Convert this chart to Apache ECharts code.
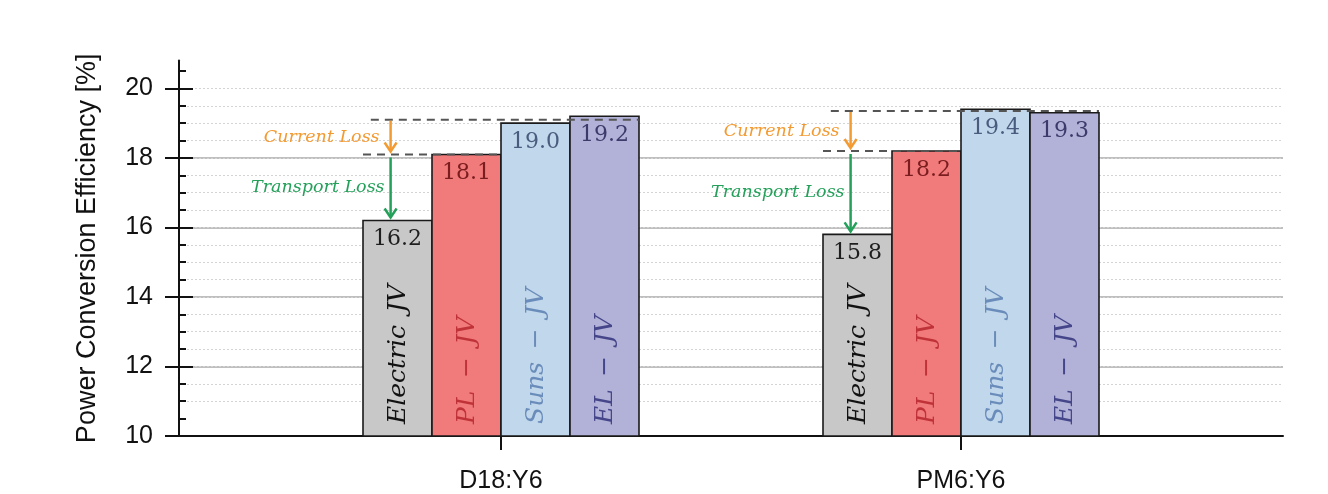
<!DOCTYPE html>
<html>
<head>
<meta charset="utf-8">
<script src="https://cdn.jsdelivr.net/npm/echarts@6/dist/echarts.min.js"></script>
<style>
  html, body { margin: 0; padding: 0; background: #fff; }
  #chart { width: 1328px; height: 494px; }
</style>
</head>
<body>
<div id="chart"></div>
<script>
// data
var groups = ['D18:Y6', 'PM6:Y6'];
var groupPos = [1, 2];
var methods = ['Electric\u2002JV', 'PL\u2002\u2212\u2002JV', 'Suns\u2002\u2212\u2002JV', 'EL\u2002\u2212\u2002JV'];
var electricJV = [16.2, 15.8];
var plJV = [18.1, 18.2];
var sunsJV = [19.0, 19.4];
var elJV = [19.2, 19.3];
var yTicks = [10, 12, 14, 16, 18, 20];

var yMin = 10, yMax = 20.8;
var barOffsets = [-0.225, -0.075, 0.075, 0.225];
var halfW = 0.075;
var fills = ['#c8c8c8', '#f17a7b', '#c1d7eb', '#b2b1d7'];
var valueColors = ['#1e1e1e', '#7a1d1f', '#4a5c7e', '#3b3a6b'];
var nameColors = ['#111111', '#bf3338', '#6a8cba', '#45458a'];

// minor grid every 0.5
var minorTicks = [];
for (var v = yMin + 0.5; v < yMax; v += 0.5) minorTicks.push(v);

var chart = echarts.init(document.getElementById('chart'));

function barSeries(k, values) {
  return {
    type: 'custom',
    name: methods[k],
    xAxisIndex: 0,
    yAxisIndex: 0,
    data: groupPos.map(function (g, i) { return [g, values[i]]; }),
    renderItem: function (params, api) {
      var x = api.value(0) + barOffsets[k];
      var val = api.value(1);
      var p0 = api.coord([x - halfW, val]);
      var p1 = api.coord([x + halfW, yMin]);
      var cx = (p0[0] + p1[0]) / 2;
      return {
        type: 'group',
        children: [
          { type: 'rect', shape: { x: p0[0], y: p0[1], width: p1[0] - p0[0], height: p1[1] - p0[1] },
            style: { fill: fills[k], stroke: '#1a1a1a', lineWidth: 1.6 } },
          { type: 'text', x: cx, y: p0[1] + 8,
            style: { text: val.toFixed(1), fill: valueColors[k], font: '22px "DejaVu Serif"', align: 'center', verticalAlign: 'top' } },
          { type: 'text', x: cx + 1, y: p1[1] - 12, rotation: Math.PI / 2,
            style: { text: methods[k], fill: nameColors[k], font: 'italic 25px "DejaVu Serif"', align: 'left', verticalAlign: 'middle' } }
        ]
      };
    }
  };
}

var lossData = groupPos.map(function (g, i) {
  return [g, electricJV[i], plJV[i], (sunsJV[i] + elJV[i]) / 2];
});

var lossSeries = {
  type: 'custom',
  xAxisIndex: 0,
  yAxisIndex: 0,
  z: 5,
  data: lossData,
  renderItem: function (params, api) {
    var g = api.value(0);
    var vE = api.value(1), vP = api.value(2), vT = api.value(3);
    var xL = g + barOffsets[0] - halfW;
    var xA = xL + 0.06;
    var lowS = api.coord([xL, vP]), lowE = api.coord([g + barOffsets[1] + halfW, vP]);
    var upS = api.coord([xL + 0.017, vT]), upE = api.coord([g + barOffsets[3] + halfW, vT]);
    var aT = api.coord([xA, vT]), aM = api.coord([xA, vP]), aB = api.coord([xA, vE]);
    var dash = { stroke: '#555', lineWidth: 2, lineDash: [8, 6] };
    var orange = '#f39b33', green = '#24a05a';
    function arrow(y0, y1, color) {
      return [
        { type: 'line', shape: { x1: aT[0], y1: y0, x2: aT[0], y2: y1 }, style: { stroke: color, lineWidth: 2.5 } },
        { type: 'polyline', shape: { points: [[aT[0] - 6, y1 - 9], [aT[0], y1], [aT[0] + 6, y1 - 9]] },
          style: { stroke: color, lineWidth: 2.5, fill: null } }
      ];
    }
    var kids = [
      { type: 'line', shape: { x1: lowS[0], y1: lowS[1], x2: lowE[0], y2: lowE[1] }, style: dash },
      { type: 'line', shape: { x1: upS[0], y1: upS[1], x2: upE[0], y2: upE[1] }, style: dash }
    ];
    kids = kids.concat(arrow(aT[1] + 1, aM[1] - 3, orange));
    kids = kids.concat(arrow(aM[1] + 3, aB[1] - 3, green));
    kids.push({ type: 'text', x: aT[0] - 11, y: (aT[1] + aM[1]) / 2,
      style: { text: 'Current Loss', fill: orange, font: 'italic 17.5px "DejaVu Serif"', align: 'right', verticalAlign: 'middle' } });
    kids.push({ type: 'text', x: aT[0] - 6, y: (aM[1] + aB[1]) / 2,
      style: { text: 'Transport Loss', fill: green, font: 'italic 17.5px "DejaVu Serif"', align: 'right', verticalAlign: 'middle' } });
    return { type: 'group', children: kids };
  }
};

var option = {
  animation: false,
  backgroundColor: '#fff',
  grid: { left: 179, right: 45, top: 60.6, bottom: 53.8, containLabel: false },
  xAxis: {
    type: 'value',
    min: 0.3,
    max: 2.7,
    axisLine: { onZero: false, lineStyle: { color: '#111', width: 2 } },
    axisTick: { customValues: groupPos, length: 14, lineStyle: { color: '#111', width: 2 } },
    axisLabel: {
      customValues: groupPos,
      margin: 33,
      color: '#111',
      fontSize: 25,
      fontFamily: 'Liberation Sans',
      formatter: function (v) { return groups[groupPos.indexOf(v)]; }
    },
    splitLine: { show: false }
  },
  yAxis: [
    {
      type: 'value',
      position: 'left',
      min: yMin,
      max: yMax,
      interval: 2,
      name: 'Power Conversion Efficiency [%]',
      nameLocation: 'middle',
      nameGap: 78,
      nameTextStyle: { fontSize: 27, fontFamily: 'Liberation Sans', color: '#111' },
      axisLine: { show: true, lineStyle: { color: '#111', width: 2 } },
      axisTick: { customValues: yTicks, length: 14, lineStyle: { color: '#111', width: 2 } },
      axisLabel: { customValues: yTicks, margin: 26, fontSize: 25, fontFamily: 'Liberation Sans', color: '#111' },
      splitLine: { show: true, showMinLine: false, showMaxLine: false, lineStyle: { color: '#aaa', width: 1.5 } }
    },
    {
      type: 'value',
      position: 'left',
      offset: 0,
      min: yMin,
      max: yMax,
      interval: 0.5,
      axisLine: { show: false },
      axisTick: { show: true, inside: true, customValues: minorTicks, length: 7, lineStyle: { color: '#111', width: 2 } },
      axisLabel: { show: false },
      splitLine: { show: true, showMinLine: false, showMaxLine: false, lineStyle: { color: '#d4d4d4', width: 1, type: [2, 2] } }
    },
    {
      type: 'value',
      position: 'left',
      offset: 0,
      min: yMin,
      max: yMax,
      interval: 2,
      axisLine: { show: false },
      axisTick: { show: true, inside: true, customValues: yTicks, length: 14, lineStyle: { color: '#111', width: 2 } },
      axisLabel: { show: false },
      splitLine: { show: false }
    }
  ],
  series: [
    barSeries(0, electricJV),
    barSeries(1, plJV),
    barSeries(2, sunsJV),
    barSeries(3, elJV),
    lossSeries
  ]
};

chart.setOption(option);
</script>
</body>
</html>
